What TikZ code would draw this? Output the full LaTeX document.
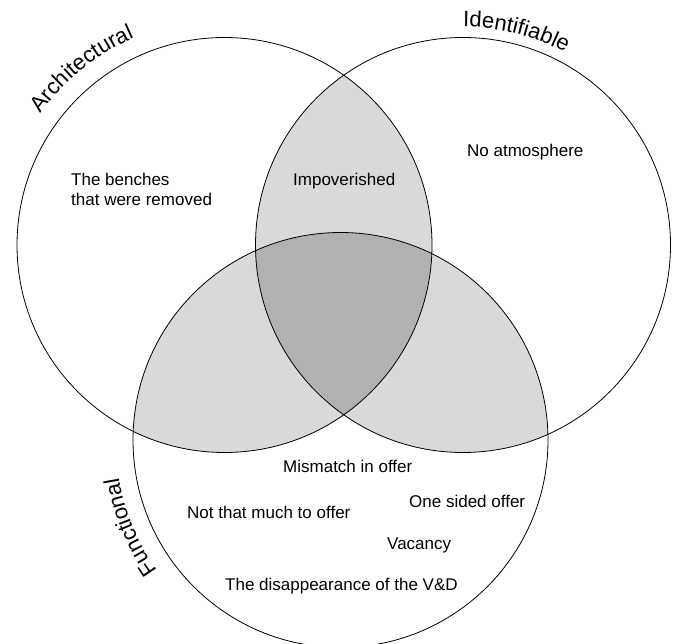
\documentclass[tikz,border=0pt]{standalone}
\usepackage{fontspec}
\setmainfont{Liberation Sans}
\usetikzlibrary{decorations.text,calc}
\definecolor{pairfill}{HTML}{D9D9D9}
\definecolor{triplefill}{HTML}{B1B1B1}
\begin{document}
\begin{tikzpicture}[x=1pt,y=1pt,
  ring/.style={draw=black, line width=0.8pt},
  item/.style={font=\fontsize{17}{19.5}\selectfont, inner sep=0pt, anchor=base west},
  setlabel/.style={decorate, decoration={text along path, text align=center,
      text={|\fontsize{22}{22}\selectfont|#1}}},
  ]
\useasboundingbox (0,0) rectangle (677,643);
\fill[white] (0,0) rectangle (677,643);
\def\vr{207.5}
\coordinate (A) at (224.5,398);
\coordinate (I) at (463,398);
\coordinate (F) at (340.5,203);
% pairwise overlaps
\begin{scope}
  \clip (A) circle[radius=\vr];
  \fill[pairfill] (I) circle[radius=\vr];
  \fill[pairfill] (F) circle[radius=\vr];
\end{scope}
\begin{scope}
  \clip (I) circle[radius=\vr];
  \fill[pairfill] (F) circle[radius=\vr];
\end{scope}
% common overlap of all three sets
\begin{scope}
  \clip (A) circle[radius=\vr];
  \clip (I) circle[radius=\vr];
  \fill[triplefill] (F) circle[radius=\vr];
\end{scope}
% outlines
\draw[ring] (A) circle[radius=\vr];
\draw[ring] (I) circle[radius=\vr];
\draw[ring] (F) circle[radius=\vr];
% set names along the circles
\path[setlabel=Architectural] ($(A)+(146:226)$) arc[start angle=146, end angle=112, radius=226];
\path[setlabel=Identifiable] ($(I)+(91:218)$) arc[start angle=91, end angle=61, radius=218];
\path[setlabel=Functional] ($(F)+(216.5:225)$) arc[start angle=216.5, end angle=188.5, radius=225];
% region entries
\node[font=\fontsize{17}{19.5}\selectfont, inner sep=0pt, anchor=north west, align=left] (benches) at (71,470) {The benches\\that were removed};
\node[item] (impov) at (293,457) {Impoverished};
\node[item] (atmos) at (467,486) {No atmosphere};
\node[item] (mismatch) at (283,171) {Mismatch in offer};
\node[item] (notmuch) at (187,125) {Not that much to offer};
\node[item] (onesided) at (409,136) {One sided offer};
\node[item] (vacancy) at (387,94) {Vacancy};
\node[item] (vd) at (225,53) {The disappearance of the V\&D};
\end{tikzpicture}
\end{document}
